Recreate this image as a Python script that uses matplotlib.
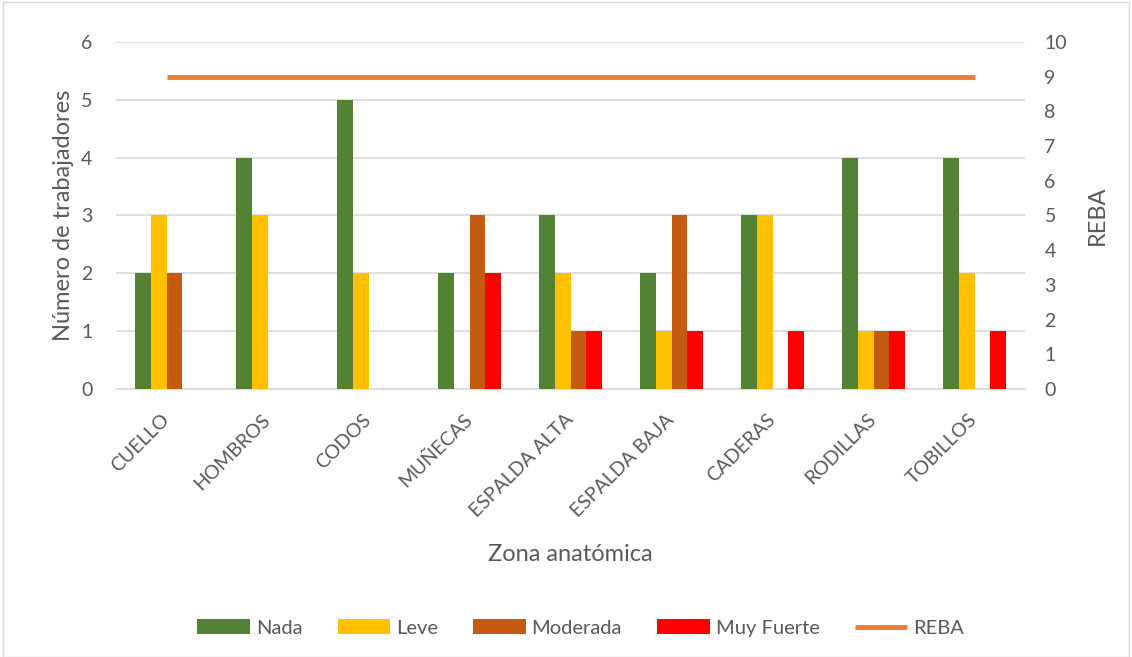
import matplotlib
matplotlib.use("Agg")
import matplotlib.pyplot as plt
import numpy as np
from matplotlib.patches import Rectangle

plt.rcParams['font.family'] = ['Lato', 'DejaVu Sans']

zonas = ["CUELLO", "HOMBROS", "CODOS", "MUÑECAS", "ESPALDA ALTA",
         "ESPALDA BAJA", "CADERAS", "RODILLAS", "TOBILLOS"]
nada = [2, 4, 5, 2, 3, 2, 3, 4, 4]
leve = [3, 3, 2, 0, 2, 1, 3, 1, 2]
moderada = [2, 0, 0, 3, 1, 3, 0, 1, 0]
muy_fuerte = [0, 0, 0, 2, 1, 1, 1, 1, 1]
reba = [9, 9, 9, 9, 9, 9, 9, 9, 9]

series = [("Nada", nada, "#548235"),
          ("Leve", leve, "#FFC000"),
          ("Moderada", moderada, "#C55A11"),
          ("Muy Fuerte", muy_fuerte, "#FF0000")]

text_col = "#595959"
grid_col = "#D9D9D9"

fig = plt.figure(figsize=(11.32, 6.57), dpi=100)
fig.patches.append(Rectangle((0.003, 0.0), 0.994, 0.997, transform=fig.transFigure,
                             fill=False, edgecolor="#D9D9D9", linewidth=1.0))

ax = fig.add_axes([0.1025, 0.408, 0.803, 0.528])
x = np.arange(len(zonas))
w = 0.158
for i, (name, vals, col) in enumerate(series):
    ax.bar(x + (i - 1.5) * w, vals, width=w, color=col, label=name, zorder=3)

ax.set_xlim(-0.5, len(zonas) - 0.5)
ax.set_ylim(0, 6)
ax.set_yticks(range(0, 7))
ax.yaxis.grid(True, color=grid_col, linewidth=1.2, zorder=0)
for s in ["top", "right", "left"]:
    ax.spines[s].set_visible(False)
ax.spines["bottom"].set_color(grid_col)
ax.spines["bottom"].set_linewidth(1.2)
ax.tick_params(axis="both", length=0, colors=text_col, labelsize=14)
ax.tick_params(axis="y", pad=17)
ax.set_xticks(x)
ax.set_xticklabels(zonas, rotation=45, ha="right", va="center",
                   rotation_mode="anchor", fontsize=14, color=text_col)
ax.tick_params(axis="x", pad=20)
ax.set_ylabel("Número de trabajadores", fontsize=17, color=text_col, labelpad=5)
ax.set_xlabel("Zona anatómica", fontsize=17, color=text_col, labelpad=17)

ax2 = ax.twinx()
ax2.plot(x, reba, color="#ED7D31", linewidth=3.5, label="REBA", zorder=4,
         solid_capstyle="butt")
ax2.set_ylim(0, 10)
ax2.set_yticks(range(0, 11))
for s in ax2.spines.values():
    s.set_visible(False)
ax2.tick_params(axis="y", length=0, colors=text_col, labelsize=14, pad=14)
ax2.set_ylabel("REBA", fontsize=17, color=text_col, labelpad=14)

h1, l1 = ax.get_legend_handles_labels()
h2, l2 = ax2.get_legend_handles_labels()
fig.legend(h1 + h2, l1 + l2, loc="center", bbox_to_anchor=(0.513, 0.044), ncol=5,
           frameon=False, fontsize=14.5, handlelength=2.6, handleheight=0.75,
           columnspacing=1.75, handletextpad=0.3, labelcolor=text_col)

fig.savefig("out.png", dpi=100)
